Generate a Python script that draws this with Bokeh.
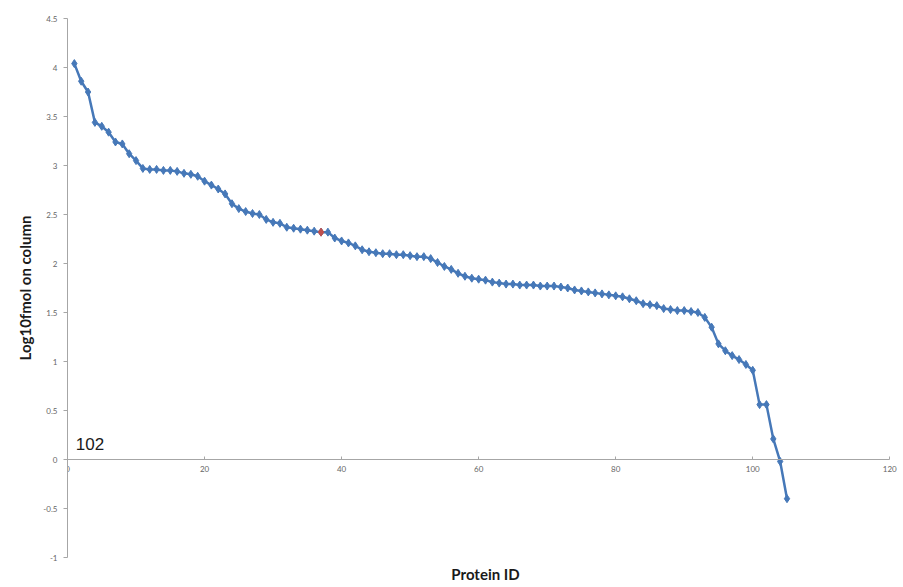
from bokeh.plotting import figure
from bokeh.models import FixedTicker, Range1d, Label, Title
from bokeh.embed import file_html
from bokeh.resources import INLINE

protein_id = list(range(1, 106))
log10_fmol = [
    4.04, 3.86, 3.75, 3.44, 3.40, 3.34, 3.24, 3.22, 3.12, 3.05,
    2.97, 2.96, 2.96, 2.95, 2.95, 2.94, 2.92, 2.91, 2.89, 2.84,
    2.80, 2.76, 2.71, 2.61, 2.56, 2.53, 2.51, 2.50, 2.45, 2.42,
    2.41, 2.37, 2.36, 2.35, 2.34, 2.33, 2.32, 2.32, 2.26, 2.23,
    2.21, 2.18, 2.14, 2.12, 2.11, 2.10, 2.10, 2.09, 2.09, 2.08,
    2.07, 2.07, 2.05, 2.01, 1.97, 1.94, 1.90, 1.87, 1.85, 1.84,
    1.83, 1.81, 1.80, 1.79, 1.79, 1.78, 1.78, 1.78, 1.77, 1.77,
    1.77, 1.76, 1.75, 1.73, 1.72, 1.71, 1.70, 1.69, 1.68, 1.67,
    1.66, 1.64, 1.62, 1.59, 1.58, 1.57, 1.54, 1.53, 1.52, 1.52,
    1.51, 1.50, 1.45, 1.35, 1.18, 1.11, 1.06, 1.02, 0.97, 0.91,
    0.56, 0.56, 0.21, -0.02, -0.40,
]
highlight_index = 36  # protein 37 (red marker)
x_ticks = [0, 20, 40, 60, 80, 100, 120]
y_ticks = [-1, -0.5, 0, 0.5, 1, 1.5, 2, 2.5, 3, 3.5, 4, 4.5]
annotation = "102"

BLUE = "#4678b8"
RED = "#c0504d"

p = figure(width=903, height=587, output_backend="svg", toolbar_location=None,
           x_range=Range1d(0, 122), y_range=Range1d(-1, 4.5),
           min_border_left=67, min_border_right=0, min_border_top=18, min_border_bottom=12)
p.outline_line_color = None
p.grid.visible = False
p.background_fill_color = "white"

p.line(protein_id, log10_fmol, line_color=BLUE, line_width=2.5)
p.scatter(protein_id, log10_fmol, marker="diamond", size=8, fill_color=BLUE, line_color=BLUE)
p.scatter([protein_id[highlight_index]], [log10_fmol[highlight_index]], marker="diamond",
          size=8, fill_color=RED, line_color=RED)

# y axis
ya = p.yaxis[0]
ya.ticker = FixedTicker(ticks=y_ticks)
ya.major_label_overrides = {t: f"{t:g}" for t in y_ticks}
ya.axis_line_color = "#a6a6a6"
ya.major_tick_line_color = "#a6a6a6"
ya.major_tick_out = 4
ya.major_tick_in = 0
ya.minor_tick_line_color = None
ya.major_label_text_font = "Lato"
ya.major_label_text_font_size = "8px"
ya.major_label_text_color = "#666666"
ya.major_label_standoff = 6
ya.axis_label = "Log10fmol on column"
ya.axis_label_text_font = "Lato"
ya.axis_label_text_font_style = "bold"
ya.axis_label_text_font_size = "15px"
ya.axis_label_text_color = "#1a1a1a"
ya.axis_label_standoff = 6

# x axis at y = 0
xa = p.xaxis[0]
xa.fixed_location = 0
xa.bounds = (0, 120)
xa.ticker = FixedTicker(ticks=x_ticks)
xa.axis_line_color = "#a6a6a6"
xa.major_tick_line_color = "#a6a6a6"
xa.major_tick_out = 0
xa.major_tick_in = 3
xa.minor_tick_line_color = None
xa.major_label_text_font = "Lato"
xa.major_label_text_font_size = "8px"
xa.major_label_text_color = "#666666"
xa.major_label_standoff = 6

p.add_layout(Title(text="Protein ID", align="center", text_font="Lato",
                   text_font_style="bold", text_font_size="15px",
                   text_color="#1a1a1a"), "below")

p.add_layout(Label(x=1.2, y=0.1, text=annotation, text_font="Liberation Sans",
                   text_font_size="17px", text_color="#1a1a1a"))

open("out.html", "w").write(file_html(p, INLINE))
